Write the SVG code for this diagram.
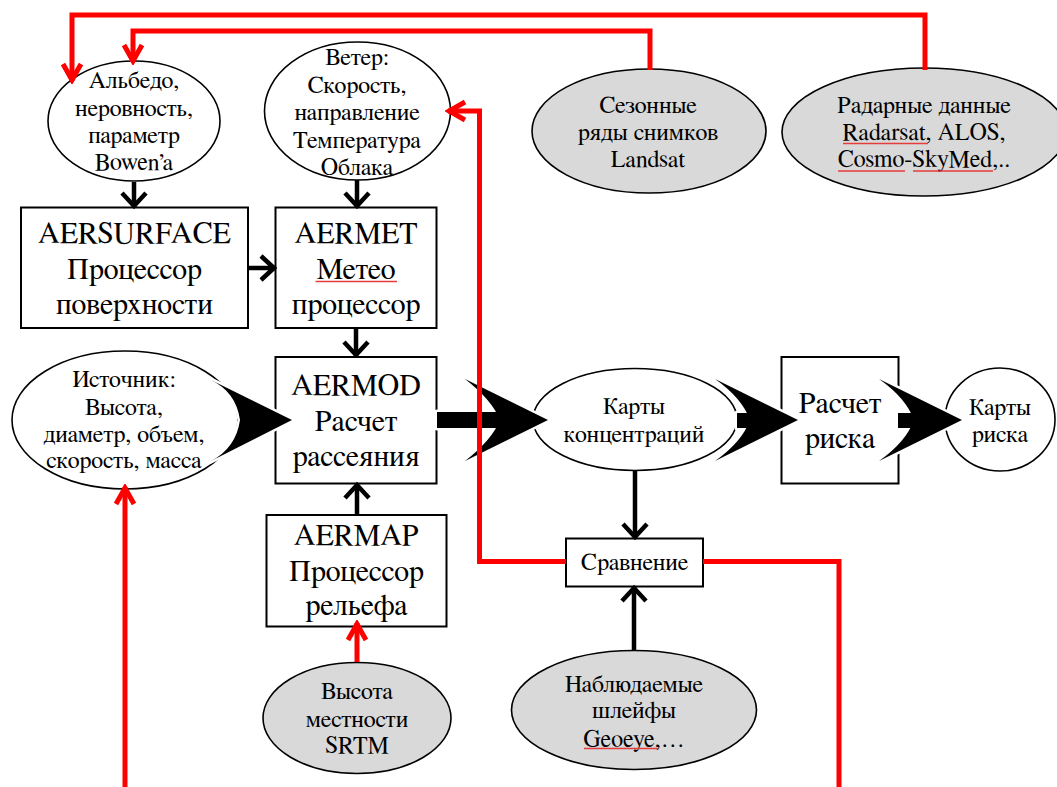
<svg xmlns="http://www.w3.org/2000/svg" xmlns:xlink="http://www.w3.org/1999/xlink" width="1057" height="787" viewBox="0 0 1057 787">
<style>
  text { font-family: "FreeSerif", "Liberation Serif", "DejaVu Serif Condensed", serif; fill: #000; text-anchor: middle; }
  .t23 { font-size: 24px; }
  .t30 { font-size: 30px; }
  .box { fill: #fff; stroke: #000; stroke-width: 2; }
  .ew { fill: #fff; stroke: #000; stroke-width: 1.6; }
  .eg { fill: #d9d9d9; stroke: #000; stroke-width: 1.6; }
  .blk { fill: none; stroke: #000; stroke-width: 4.5; marker-end: url(#ah); }
  .red { fill: none; stroke: #ff0000; stroke-width: 5; stroke-linejoin: miter; }
  .redA { marker-end: url(#rh); }
  .halo { fill: #fff; stroke: #fff; stroke-width: 5; stroke-linejoin: round; }
  .bigf { fill: #000; stroke: none; }
  .spell { fill: none; stroke: #e63c3c; stroke-width: 1.3; }
</style>
<defs>
  <marker id="ah" markerUnits="userSpaceOnUse" viewBox="-20 -16 24 32" refX="1" refY="0" markerWidth="24" markerHeight="32" orient="auto">
    <path d="M-13,-12 L0,0 L-13,12" fill="none" stroke="#000" stroke-width="4.5" stroke-linecap="butt"/>
  </marker>
  <marker id="rh" markerUnits="userSpaceOnUse" viewBox="-22 -14 26 28" refX="1" refY="0" markerWidth="26" markerHeight="28" orient="auto">
    <path d="M-16,-9 L0,0 L-16,9" fill="none" stroke="#ff0000" stroke-width="5" stroke-linecap="butt"/>
  </marker>
  <path id="big1" d="M292,420 L211,380 Q236,392 240,420 Q236,448 211,461 Z"/>
  <path id="big2" d="M548,420 L465,379 Q492,400 500,420 Q492,440 465,461 Z M437,412 V428 H502 V412 Z"/>
  <path id="big3" d="M798,420 L715,379 Q742,398 750,420 Q742,442 715,461 Z M737,413 V428 H752 V413 Z"/>
  <path id="big4" d="M962,420 L879,379 Q906,398 914,420 Q906,442 879,461 Z M898,413 V428 H916 V413 Z"/>
  <path id="halo4" d="M962,420 L879,379 Q906,398 914,420 Q906,442 879,461 Z M897,397 V443 H916 V397 Z"/>
</defs>

<g id="nodes">
  <g id="albedo">
    <ellipse class="ew" cx="134" cy="121" rx="86" ry="60"/>
    <text class="t23"><tspan x="134" y="88">Альбедо,</tspan><tspan x="134" y="115.5">неровность,</tspan><tspan x="134" y="143">параметр</tspan><tspan x="134" y="170">Bowen’a</tspan></text>
  </g>
  <g id="wind">
    <ellipse class="ew" cx="357.5" cy="111" rx="93" ry="69"/>
    <text class="t23"><tspan x="357" y="65">Ветер:</tspan><tspan x="357" y="93">Скорость,</tspan><tspan x="357" y="120">направление</tspan><tspan x="357" y="148">Температура</tspan><tspan x="357" y="175">Облака</tspan></text>
  </g>
  <g id="landsat">
    <ellipse class="eg" cx="649" cy="131" rx="117" ry="62"/>
    <text class="t23"><tspan x="648" y="113">Сезонные</tspan><tspan x="648" y="140">ряды снимков</tspan><tspan x="648" y="167">Landsat</tspan></text>
  </g>
  <g id="radar">
    <ellipse class="eg" cx="924" cy="132" rx="142" ry="64"/>
    <text class="t23"><tspan x="924" y="113">Радарные данные</tspan><tspan x="924" y="140">Radarsat, ALOS,</tspan><tspan x="924" y="167">Cosmo-SkyMed,..</tspan></text>
    <path class="spell" d="M843,143.5 H928 M838,171 H905 M913,171 H993"/>
  </g>
  <g id="aersurface">
    <rect class="box" x="21" y="207.5" width="227" height="120.5"/>
    <text class="t30"><tspan x="134.5" y="243">AERSURFACE</tspan><tspan x="134.5" y="279">Процессор</tspan><tspan x="134.5" y="314">поверхности</tspan></text>
  </g>
  <g id="aermet">
    <rect class="box" x="275.5" y="207.5" width="161" height="120.5"/>
    <text class="t30"><tspan x="356" y="243">AERMET</tspan><tspan x="356" y="279">Метео</tspan><tspan x="356" y="314">процессор</tspan></text>
    <path class="spell" d="M315.5,281.5 H397" stroke="#f08c8c"/>
  </g>
  <g id="source">
    <ellipse class="ew" cx="125" cy="420" rx="113" ry="69"/>
    <text class="t23"><tspan x="124" y="387">Источник:</tspan><tspan x="124" y="415">Высота,</tspan><tspan x="124" y="442">диаметр, объем,</tspan><tspan x="124" y="468">скорость, масса</tspan></text>
  </g>
  <g id="aermod">
    <rect class="box" x="275.5" y="357" width="161" height="126.5"/>
    <text class="t30"><tspan x="356" y="395">AERMOD</tspan><tspan x="356" y="431">Расчет</tspan><tspan x="356" y="466">рассеяния</tspan></text>
  </g>
  <g id="conc">
    <ellipse class="ew" cx="635" cy="419.5" rx="102" ry="51"/>
    <text class="t23"><tspan x="634" y="414">Карты</tspan><tspan x="634" y="442">концентраций</tspan></text>
  </g>
  <g id="risk">
    <rect class="box" x="781.5" y="357" width="117" height="126.5"/>
    <text class="t30"><tspan x="840" y="413">Расчет</tspan><tspan x="840" y="448">риска</tspan></text>
  </g>
  <g id="riskmap">
    <ellipse class="ew" cx="1000" cy="419.5" rx="55" ry="51.5"/>
    <text class="t23"><tspan x="1000" y="415">Карты</tspan><tspan x="1000" y="442">риска</tspan></text>
  </g>
  <g id="compare">
    <rect class="box" x="566" y="538.5" width="137" height="48"/>
    <text class="t23" x="634.5" y="570">Сравнение</text>
  </g>
  <g id="aermap">
    <rect class="box" x="266.5" y="515" width="180" height="111.5"/>
    <text class="t30"><tspan x="356.5" y="545">AERMAP</tspan><tspan x="356.5" y="581">Процессор</tspan><tspan x="356.5" y="615">рельефа</tspan></text>
  </g>
  <g id="srtm">
    <ellipse class="eg" cx="357" cy="718" rx="94" ry="55.5"/>
    <text class="t23"><tspan x="357" y="699">Высота</tspan><tspan x="357" y="727">местности</tspan><tspan x="357" y="753">SRTM</tspan></text>
  </g>
  <g id="plumes">
    <ellipse class="eg" cx="634" cy="710" rx="122.5" ry="59.5"/>
    <text class="t23"><tspan x="634" y="692">Наблюдаемые</tspan><tspan x="634" y="718">шлейфы</tspan><tspan x="634" y="747">Geoeye,…</tspan></text>
    <path class="spell" d="M584,748.5 H658"/>
  </g>
</g>

<g id="connectors">
  <g id="big-arrows">
    <use xlink:href="#big1" class="halo"/>
    <use xlink:href="#big2" class="halo"/>
    <use xlink:href="#big3" class="halo"/>
    <use xlink:href="#halo4" class="halo"/>
    <use xlink:href="#big1" class="bigf"/>
    <use xlink:href="#big2" class="bigf"/>
    <use xlink:href="#big3" class="bigf"/>
    <use xlink:href="#big4" class="bigf"/>
  </g>
  <g id="black-arrows">
    <path class="blk" d="M134,182 V207"/>
    <path class="blk" d="M357,180 V207"/>
    <path class="blk" d="M248,268 H275"/>
    <path class="blk" d="M356,328 V356"/>
    <path class="blk" d="M357,515 V484"/>
    <path class="blk" d="M635,471 V538"/>
    <path class="blk" d="M634,651 V587"/>
  </g>
  <g id="red-lines">
    <path class="red redA" d="M925,70 V15 H72 V81"/>
    <path class="red redA" d="M650,70 V31 H133 V62"/>
    <path class="red redA" d="M566,561.5 H479.5 V111 H448"/>
    <path class="red" d="M703,561.5 H839 V787"/>
    <path class="red redA" d="M125,787 V487"/>
    <path class="red redA" d="M357,662 V623"/>
  </g>
</g>
</svg>
